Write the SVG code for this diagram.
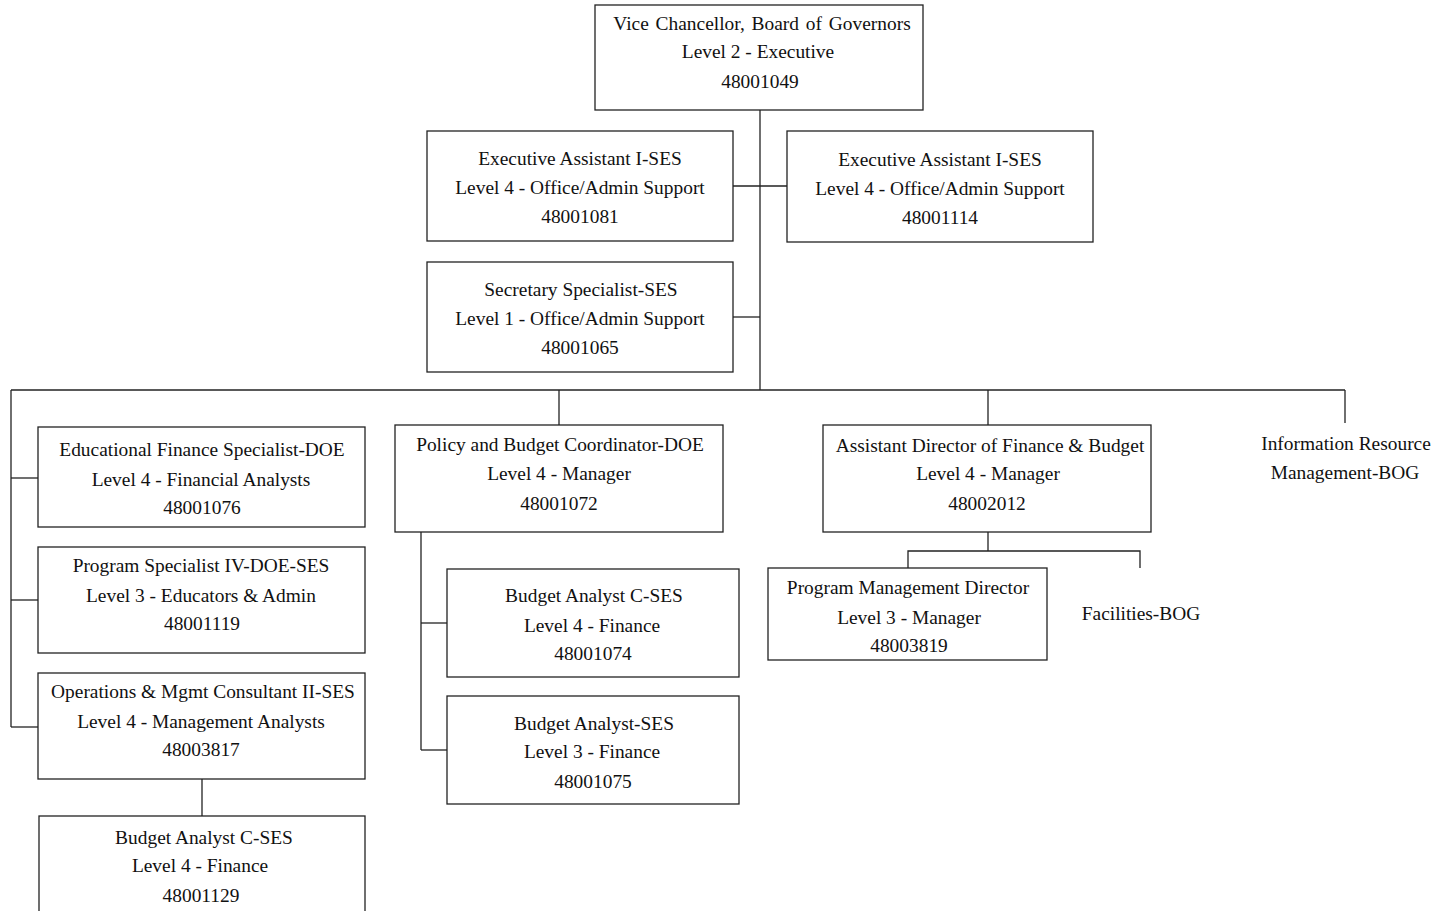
<svg xmlns="http://www.w3.org/2000/svg" width="1435" height="911" viewBox="0 0 1435 911">
  <style>
    .box { fill: #ffffff; stroke: #222222; stroke-width: 1.3; }
    .ln { fill: none; stroke: #222222; stroke-width: 1.3; }
    text { font-family: "Liberation Serif", "Times New Roman", serif; font-size: 19.4px; fill: #111111; text-anchor: middle; }
  </style>
  <rect width="1435" height="911" fill="#ffffff"/>

  <!-- connectors -->
  <g id="connectors">
    <path class="ln" d="M760 110 V390"/>
    <path class="ln" d="M733 186 H787"/>
    <path class="ln" d="M733 317 H760"/>
    <path class="ln" d="M11 390 H1345"/>
    <path class="ln" d="M11 390 V727"/>
    <path class="ln" d="M11 478 H38"/>
    <path class="ln" d="M11 600 H38"/>
    <path class="ln" d="M11 727 H38"/>
    <path class="ln" d="M202 779 V816"/>
    <path class="ln" d="M559 390 V425"/>
    <path class="ln" d="M421 532 V750"/>
    <path class="ln" d="M421 623 H447"/>
    <path class="ln" d="M421 750 H447"/>
    <path class="ln" d="M988 390 V425"/>
    <path class="ln" d="M988 532 V551"/>
    <path class="ln" d="M908 568 V551 H1140 V568"/>
    <path class="ln" d="M1345 390 V423"/>
  </g>

  <g id="vice-chancellor">
    <rect class="box" x="595" y="5" width="328" height="105"/>
    <text x="762" y="30" word-spacing="2">Vice Chancellor, Board of Governors</text>
    <text x="758" y="58">Level 2 - Executive</text>
    <text x="760" y="88">48001049</text>
  </g>

  <g id="exec-assistant-1081">
    <rect class="box" x="427" y="131" width="306" height="110"/>
    <text x="580" y="165">Executive Assistant I-SES</text>
    <text x="580" y="194">Level 4 - Office/Admin Support</text>
    <text x="580" y="223">48001081</text>
  </g>

  <g id="exec-assistant-1114">
    <rect class="box" x="787" y="131" width="306" height="111"/>
    <text x="940" y="166">Executive Assistant I-SES</text>
    <text x="940" y="195">Level 4 - Office/Admin Support</text>
    <text x="940" y="224">48001114</text>
  </g>

  <g id="secretary-specialist">
    <rect class="box" x="427" y="262" width="306" height="110"/>
    <text x="581" y="296">Secretary Specialist-SES</text>
    <text x="580" y="325">Level 1 - Office/Admin Support</text>
    <text x="580" y="354">48001065</text>
  </g>

  <g id="educational-finance">
    <rect class="box" x="38" y="427" width="327" height="100"/>
    <text x="202" y="456">Educational Finance Specialist-DOE</text>
    <text x="201" y="486">Level 4 - Financial Analysts</text>
    <text x="202" y="514">48001076</text>
  </g>

  <g id="program-specialist">
    <rect class="box" x="38" y="547" width="327" height="106"/>
    <text x="201" y="572">Program Specialist IV-DOE-SES</text>
    <text x="201" y="602">Level 3 - Educators &amp; Admin</text>
    <text x="202" y="630">48001119</text>
  </g>

  <g id="operations-consultant">
    <rect class="box" x="38" y="673" width="327" height="106"/>
    <text x="203" y="698">Operations &amp; Mgmt Consultant II-SES</text>
    <text x="201" y="728">Level 4 - Management Analysts</text>
    <text x="201" y="756">48003817</text>
  </g>

  <g id="budget-analyst-1129">
    <rect class="box" x="39" y="816" width="326" height="110"/>
    <text x="204" y="844">Budget Analyst C-SES</text>
    <text x="200" y="872">Level 4 - Finance</text>
    <text x="201" y="902">48001129</text>
  </g>

  <g id="policy-budget-coordinator">
    <rect class="box" x="395" y="425" width="328" height="107"/>
    <text x="560" y="451">Policy and Budget Coordinator-DOE</text>
    <text x="559" y="480">Level 4 - Manager</text>
    <text x="559" y="510">48001072</text>
  </g>

  <g id="budget-analyst-1074">
    <rect class="box" x="447" y="569" width="292" height="108"/>
    <text x="594" y="602">Budget Analyst C-SES</text>
    <text x="592" y="632">Level 4 - Finance</text>
    <text x="593" y="660">48001074</text>
  </g>

  <g id="budget-analyst-1075">
    <rect class="box" x="447" y="696" width="292" height="108"/>
    <text x="594" y="730">Budget Analyst-SES</text>
    <text x="592" y="758">Level 3 - Finance</text>
    <text x="593" y="788">48001075</text>
  </g>

  <g id="assistant-director">
    <rect class="box" x="823" y="425" width="328" height="107"/>
    <text x="990" y="452">Assistant Director of Finance &amp; Budget</text>
    <text x="988" y="480">Level 4 - Manager</text>
    <text x="987" y="510">48002012</text>
  </g>

  <g id="program-management-director">
    <rect class="box" x="768" y="568" width="279" height="92"/>
    <text x="908" y="594">Program Management Director</text>
    <text x="909" y="624">Level 3 - Manager</text>
    <text x="909" y="652">48003819</text>
  </g>

  <g id="facilities-bog">
    <text x="1141" y="620">Facilities-BOG</text>
  </g>

  <g id="information-resource">
    <text x="1346" y="450">Information Resource</text>
    <text x="1345" y="479">Management-BOG</text>
  </g>
</svg>
